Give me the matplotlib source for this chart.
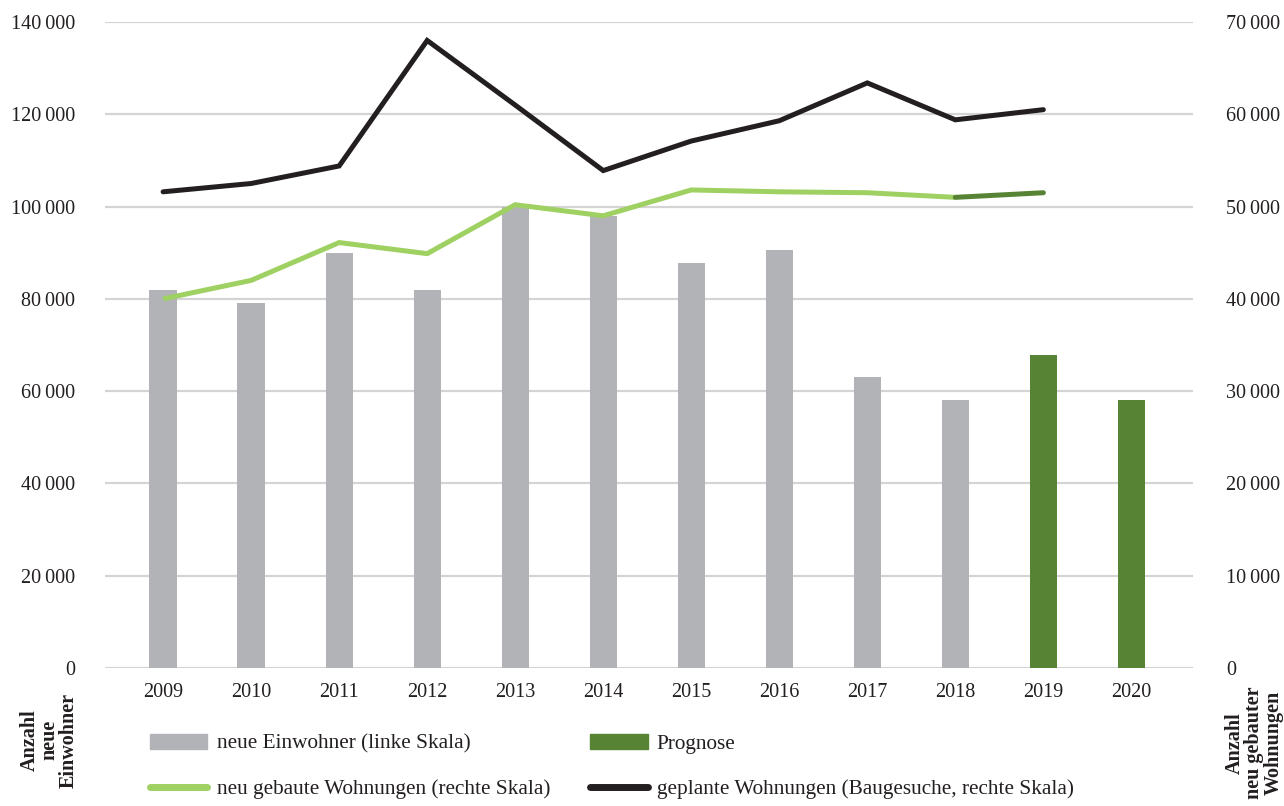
import matplotlib
matplotlib.use("Agg")
import matplotlib.pyplot as plt
from matplotlib.patches import Patch
from matplotlib.lines import Line2D
import numpy as np

plt.rcParams['font.family'] = ['Liberation Serif', 'DejaVu Serif']

# ---- data ----
years = ["2009", "2010", "2011", "2012", "2013", "2014", "2015", "2016",
         "2017", "2018", "2019", "2020"]
einwohner_years = ["2009", "2010", "2011", "2012", "2013", "2014", "2015",
                   "2016", "2017", "2018"]
einwohner = [82000, 79000, 90000, 82000, 100000, 98000, 87700, 90600, 63000, 58000]
prognose_years = ["2019", "2020"]
prognose = [67800, 58000]
line_years = ["2009", "2010", "2011", "2012", "2013", "2014", "2015", "2016",
              "2017", "2018", "2019"]
neu_gebaut = [40000, 42000, 46100, 44900, 50200, 49000, 51800, 51600, 51500, 51000, 51500]
geplant = [51600, 52500, 54400, 68000, 61000, 53900, 57100, 59300, 63400, 59400, 60500]
left_ticks = [0, 20000, 40000, 60000, 80000, 100000, 120000, 140000]
right_ticks = [0, 10000, 20000, 30000, 40000, 50000, 60000, 70000]

GRAY = "#b2b3b7"
DKGREEN = "#568434"
LTGREEN = "#9fd062"
BLACK = "#231f20"
GRID = "#d4d4d4"
TXT = "#231f20"

def fmt(v):
    return f"{v:,}".replace(",", "\u2009")

W, H = 1284, 806
fig = plt.figure(figsize=(W / 100, H / 100), dpi=100)
ax = fig.add_axes([105 / W, (H - 668) / H, (1193 - 105) / W, (668 - 22) / H])
ax2 = ax.twinx()

xi = {y: i for i, y in enumerate(years)}
bw = 0.31
ax.bar([xi[y] for y in einwohner_years], einwohner, width=bw, color=GRAY, zorder=2)
ax.bar([xi[y] for y in prognose_years], prognose, width=bw, color=DKGREEN, zorder=2)

lx = [xi[y] for y in line_years]
ax2.plot(lx[:-1], neu_gebaut[:-1], color=LTGREEN, lw=3.6, solid_capstyle='butt',
         solid_joinstyle='miter', zorder=3)
ax2.plot(lx[-2:], neu_gebaut[-2:], color=DKGREEN, lw=3.6, solid_capstyle='round', zorder=3)
ax2.plot(lx, geplant, color=BLACK, lw=3.6, solid_capstyle='round',
         solid_joinstyle='miter', zorder=3)

ax.set_xlim(-0.66, 11.70)
ax.set_ylim(0, 140000)
ax2.set_ylim(0, 70000)
ax.set_yticks(left_ticks)
ax.set_yticklabels([fmt(v) for v in left_ticks])
ax2.set_yticks(right_ticks)
ax2.set_yticklabels([fmt(v) for v in right_ticks])
ax.set_xticks(range(len(years)))
ax.set_xticklabels(years)

for a in (ax, ax2):
    for s in a.spines.values():
        s.set_visible(False)
    a.tick_params(length=0, labelsize=14.5, colors=TXT)
ax.tick_params(axis='y', pad=21.6)
ax2.tick_params(axis='y', pad=24.0)
ax.tick_params(axis='x', pad=11)
ax.yaxis.grid(True, color=GRID, lw=1.6, zorder=0)
ax.set_axisbelow(True)

fig.text(49 / W, 1 - 740 / H, "Anzahl\nneue\nEinwohner", rotation=90, ha='center',
         va='center', multialignment='center', fontsize=14.5, fontweight='bold',
         color=TXT, linespacing=0.95)
fig.text(1254 / W, 1 - 743 / H, "Anzahl\nneu gebauter\nWohnungen", rotation=90,
         ha='center', va='center', multialignment='center', fontsize=14.5,
         fontweight='bold', color=TXT, linespacing=0.95)

handles = [Patch(color=GRAY), Line2D([], [], color=LTGREEN, lw=5, solid_capstyle='round'),
           Patch(color=DKGREEN), Line2D([], [], color=BLACK, lw=5, solid_capstyle='round')]
labels = ["neue Einwohner (linke Skala)", "neu gebaute Wohnungen (rechte Skala)",
          "Prognose", "geplante Wohnungen (Baugesuche, rechte Skala)"]
leg = fig.legend(handles, labels, ncol=2, loc='upper left',
                 bbox_to_anchor=(150 / W, 1 - 734 / H), frameon=False,
                 fontsize=15.3, handlelength=2.7, handleheight=0.7,
                 handletextpad=0.43, columnspacing=1.9, labelspacing=1.2,
                 borderaxespad=0, borderpad=0)
for t in leg.get_texts():
    t.set_color(TXT)

fig.savefig("out.png", dpi=100, facecolor='white')
